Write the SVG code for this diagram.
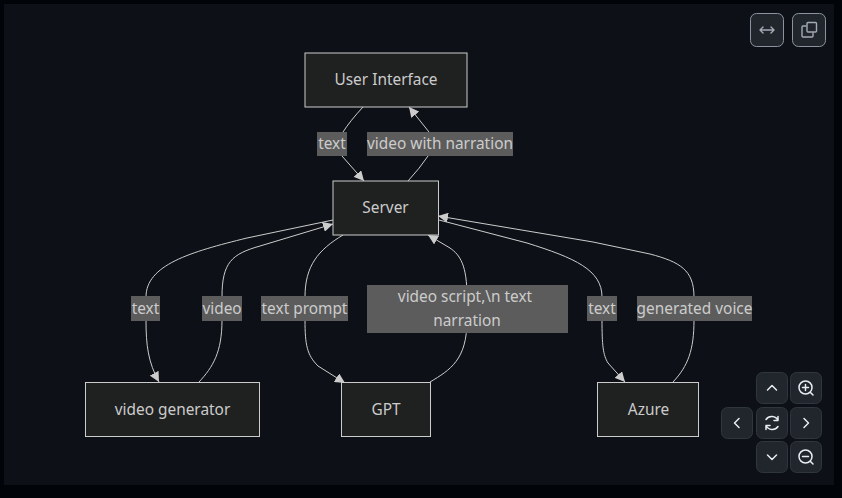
<svg xmlns="http://www.w3.org/2000/svg" width="842" height="498" viewBox="0 0 842 498">
<style>
text{font-family:"Noto Sans","Open Sans","DejaVu Sans",sans-serif;font-size:15.4px;fill:#ccc;text-anchor:middle}
.n{fill:#1f2020;stroke:#ccc;stroke-width:1}
.e{fill:none;stroke:#ccc;stroke-width:1}
.l{fill:#5c5c5c}
.b{fill:#21262d;stroke:#30363d;stroke-width:1}
.t{fill:#21262d;stroke:#8b949e;stroke-width:1}
.i{fill:none;stroke:#e6edf3;stroke-width:1.5;stroke-linecap:round;stroke-linejoin:round}
.j{fill:none;stroke:#a3abb5;stroke-width:1.4;stroke-linecap:round;stroke-linejoin:round}
</style>
<defs>
<marker id="a" markerUnits="userSpaceOnUse" viewBox="0 0 10 10" refX="10" refY="5" markerWidth="10" markerHeight="10" orient="auto"><path d="M0 0L10 5L0 10z" fill="#ccc"/></marker>
</defs>
<rect width="842" height="498" fill="#010409"/>
<rect x="4" y="4" width="830" height="481" fill="#0d1117"/>
<g id="connectors">
<path class="e" marker-end="url(#a)" d="M363 107Q350 121 343 132L342 156L364 181"/>
<path class="e" marker-end="url(#a)" d="M408 181Q420 168 428 156L429 132L409 107"/>
<path class="e" marker-end="url(#a)" d="M333 220L247 238C190 252 146 265 146 297L146 320C146 345 148 362 159 382"/>
<path class="e" marker-end="url(#a)" d="M199 382C213 367 222 352 222 320L222 297C222 262 232 254 260 246L333 224"/>
<path class="e" marker-end="url(#a)" d="M343 235C318 250 305 266 305 297L305 320C305 345 307 355 318 366L345 383"/>
<path class="e" marker-end="url(#a)" d="M430 382C450 370 467 360 467 320L467 297C467 265 460 255 450 248L428 235"/>
<path class="e" marker-end="url(#a)" d="M439 220L527 243C575 258 602 270 602 297L602 320C602 345 603 355 608 363L625 382"/>
<path class="e" marker-end="url(#a)" d="M673 382C688 366 694 350 694 320L694 297C694 270 680 262 650 254L593 242L438 216"/>
</g>
<g id="edge-labels">
<rect class="l" x="317" y="132" width="30" height="24"/><text x="332" y="149">text</text>
<rect class="l" x="367" y="132" width="146" height="24"/><text x="440" y="149">video with narration</text>
<rect class="l" x="131" y="296" width="29" height="25"/><text x="145.500" y="314">text</text>
<rect class="l" x="202" y="296" width="40" height="25"/><text x="222" y="314">video</text>
<rect class="l" x="261" y="296" width="87" height="25"/><text x="304.500" y="314">text prompt</text>
<rect class="l" x="367" y="285" width="201" height="48"/><text x="465" y="302">video script,\n text</text><text x="467" y="326">narration</text>
<rect class="l" x="587" y="296" width="30" height="25"/><text x="602" y="314">text</text>
<rect class="l" x="637" y="296" width="115" height="25"/><text x="694.500" y="314">generated voice</text>
</g>
<g id="user-interface"><rect class="n" x="305" y="53" width="162" height="54"/><text x="386" y="85">User Interface</text></g>
<g id="server"><rect class="n" x="333" y="181" width="105.500" height="54"/><text x="385.500" y="213">Server</text></g>
<g id="video-generator"><rect class="n" x="85.500" y="382.500" width="174" height="54"/><text x="172.500" y="415">video generator</text></g>
<g id="gpt"><rect class="n" x="341.500" y="382.500" width="89" height="54"/><text x="386" y="415">GPT</text></g>
<g id="azure"><rect class="n" x="597.500" y="382.500" width="101" height="54"/><text x="648.500" y="415">Azure</text></g>
<g id="controls">
<rect class="t" x="750.500" y="13.500" width="33" height="33" rx="6"/>
<path class="j" d="M760 30H774M763 27L760 30L763 33M771 27L774 30L771 33"/>
<rect class="t" x="792.500" y="13.500" width="33" height="33" rx="6"/>
<path class="j" d="M806 26H803Q802 26 802 27V36Q802 37 803 37H812Q813 37 813 36V33"/><rect class="j" x="807" y="22.500" width="9.500" height="9.500" rx="1"/>
<rect class="b" x="756.500" y="372.500" width="31" height="31" rx="6"/><path class="i" d="M767.500 390L772 385.500L776.500 390"/>
<rect class="b" x="790.500" y="372.500" width="31" height="31" rx="6"/><circle class="i" cx="805.500" cy="387.500" r="6.500"/><path class="i" d="M810.500 392.500L813 395M802.500 387.500H808.500M805.500 384.500V390.500"/>
<rect class="b" x="721.500" y="407.500" width="31" height="31" rx="6"/><path class="i" d="M739 418.500L734.500 423L739 427.500"/>
<rect class="b" x="756.500" y="407.500" width="31" height="31" rx="6"/><path class="i" d="M766 419.500A7 7 0 0 1 778 420.500M778 416.500V420.500H774M778 426.500A7 7 0 0 1 766 425.500M766 429.500V425.500H770"/>
<rect class="b" x="790.500" y="407.500" width="31" height="31" rx="6"/><path class="i" d="M804 418.500L808.500 423L804 427.500"/>
<rect class="b" x="756.500" y="441.500" width="31" height="31" rx="6"/><path class="i" d="M767.500 455L772 459.500L776.500 455"/>
<rect class="b" x="790.500" y="441.500" width="31" height="31" rx="6"/><circle class="i" cx="805.500" cy="456.500" r="6.500"/><path class="i" d="M810.500 461.500L813 464M802.500 456.500H808.500"/>
</g>
</svg>
